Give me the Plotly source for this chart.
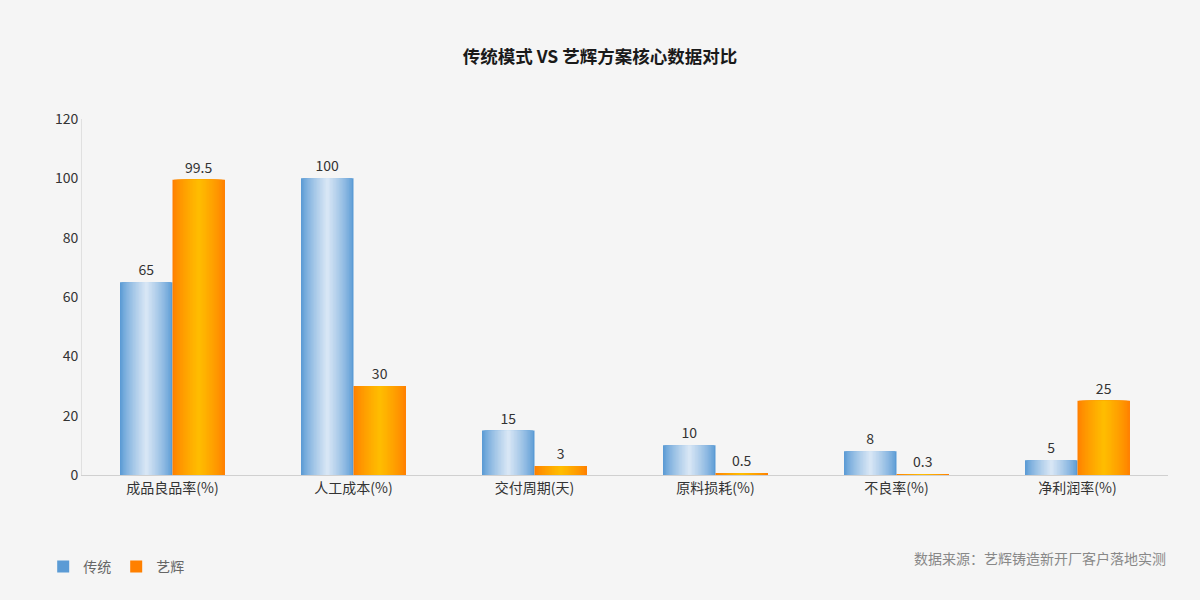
import plotly.graph_objects as go

categories = ["成品良品率(%)", "人工成本(%)", "交付周期(天)", "原料损耗(%)", "不良率(%)", "净利润率(%)"]
traditional = [65, 100, 15, 10, 8, 5]
yihui = [99.5, 30, 3, 0.5, 0.3, 25]
series_names = ["传统", "艺辉"]
tick_vals = [0, 20, 40, 60, 80, 100, 120]

FONT = "Noto Sans CJK SC, Noto Sans, sans-serif"
W = 0.29  # bar width in category units
N = 18    # gradient steps


def hex_to_rgb(h):
    h = h.lstrip("#")
    return tuple(int(h[i:i + 2], 16) for i in (0, 2, 4))


def mix(c1, c2, t):
    a, b = hex_to_rgb(c1), hex_to_rgb(c2)
    return "rgb({},{},{})".format(*[round(a[i] + (b[i] - a[i]) * t) for i in range(3)])


fig = go.Figure()

specs = [
    (series_names[0], traditional, "#5b9bd5", "#dde9f6", -W),
    (series_names[1], yihui, "#ff8000", "#ffbf00", 0.0),
]

for name, vals, edge, center, off in specs:
    # base full-width bar with label
    fig.add_trace(go.Bar(
        x=categories, y=vals, name=name,
        width=W, offset=off,
        marker=dict(color=edge, line=dict(width=0)),
        text=[str(v) for v in vals], textposition="outside",
        textfont=dict(size=14, color="#333333", family=FONT),
        cliponaxis=False, constraintext="none",
        showlegend=True, hoverinfo="x+y+name",
    ))
    # nested narrower bars -> horizontal gradient
    for k in range(1, N):
        frac = k / N
        w = W * (1 - frac)
        fig.add_trace(go.Bar(
            x=categories, y=vals, name=name,
            width=w, offset=off + (W - w) / 2,
            marker=dict(color=mix(edge, center, frac ** 0.8), line=dict(width=0)),
            showlegend=False, hoverinfo="skip",
        ))

fig.update_layout(
    width=1200, height=600,
    barmode="overlay",
    paper_bgcolor="#f5f5f5", plot_bgcolor="#f5f5f5",
    margin=dict(l=82, r=32, t=119, b=125),
    font=dict(family=FONT, size=14, color="#333333"),
    title=dict(text="<b>传统模式 VS 艺辉方案核心数据对比</b>", x=0.5, xanchor="center",
               y=1 - 57 / 600, yanchor="middle",
               font=dict(size=17.5, color="#1a1a1a", family=FONT)),
    xaxis=dict(type="category", showline=True, linecolor="#d0d0d0", linewidth=1,
               ticks="", showgrid=False, tickfont=dict(size=14, color="#333333")),
    yaxis=dict(range=[0, 120], tickvals=tick_vals, showline=True, linecolor="#e0e0e0",
               linewidth=1, showgrid=False, zeroline=False, ticks="",
               tickfont=dict(size=14, color="#333333")),
    legend=dict(orientation="h", xref="container", yref="container",
                x=0.036, y=1 - 567 / 600, xanchor="left", yanchor="middle",
                font=dict(size=14, color="#666666"), itemwidth=30,
                bgcolor="rgba(0,0,0,0)"),
    annotations=[dict(text="数据来源：艺辉铸造新开厂客户落地实测", xref="paper", yref="paper",
                      x=1, y=(475 - 558) / 356, xanchor="right", yanchor="middle", showarrow=False,
                      font=dict(size=14, color="#888888", family=FONT))],
)

fig.write_html("out.html", config={"displayModeBar": False},
               post_script="document.body.style.margin='0';")
